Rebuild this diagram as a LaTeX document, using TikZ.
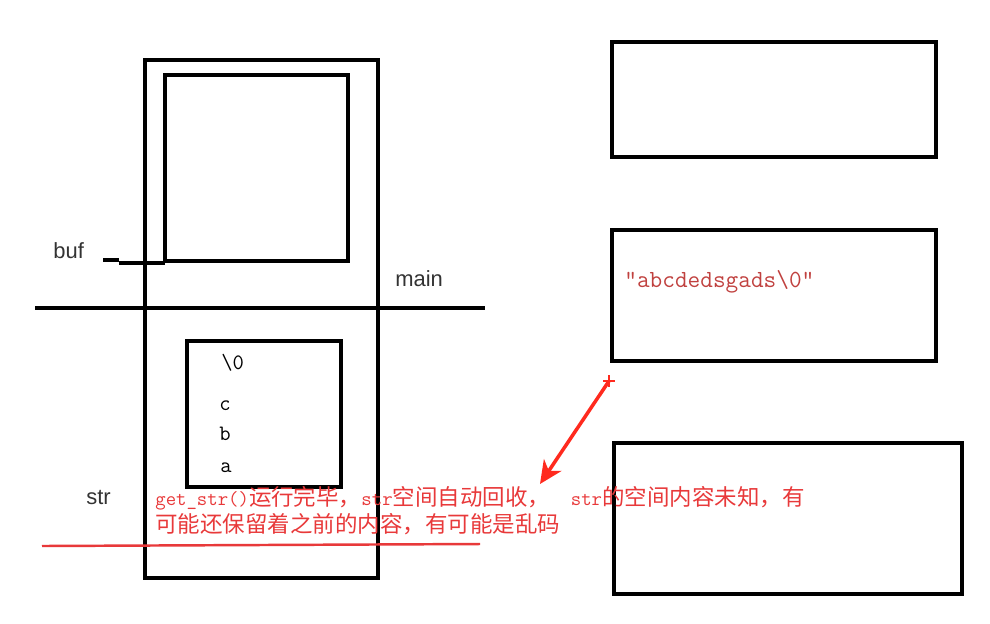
\documentclass[tikz,border=0pt]{standalone}
\usepackage{fontspec}
\usetikzlibrary{arrows.meta,calc}
\newfontfamily\cjk{Noto Sans CJK SC}
\newfontfamily\lsans{Liberation Sans}
\newcommand\zh[1]{{\cjk\fontsize{12.8}{15.3}\selectfont #1}}
\definecolor{redtxt}{HTML}{E8393A}
\definecolor{strred}{HTML}{C0413F}
\definecolor{arrred}{HTML}{FF2A1E}
\definecolor{lbl}{HTML}{333333}
\tikzset{
  blk/.style={line width=1.8pt, draw=black},
  lab/.style={font=\lsans\fontsize{12.5}{14}\selectfont, text=lbl, inner sep=0pt},
  chr/.style={font=\ttfamily\fontsize{12.5}{14}\selectfont, text=black, inner sep=0pt},
}
\begin{document}
\begin{tikzpicture}[x=0.02cm,y=-0.02cm]
\useasboundingbox (0,0) rectangle (990,623);
% stack frame
\draw[blk] (145,60) rectangle (378,578);
\draw[blk] (165,75) rectangle (348,261);
\draw[blk] (187,341) rectangle (341,487);
\draw[blk] (35,308) -- (485,308);
% buf pointer line
\coordinate (b1) at (103,260);
\coordinate (b2) at (119,260);
\coordinate (b3) at (119,263);
\coordinate (b4) at (165,263);
\draw[blk] (b1) -- (b2);
\draw[blk] (b3) -- (b4);
% labels
\node[lab, anchor=base west] (buf) at (53,258) {buf};
\node[lab, anchor=base west] (main) at (395,286) {main};
\node[lab, anchor=base west] (str) at (86,504) {str};
% chars
\node[chr, anchor=base west] (c0) at (221,369) {\textbackslash0};
\node[chr, anchor=base west] (cc) at (219,410) {c};
\node[chr, anchor=base west] (cb) at (219,440) {b};
\node[chr, anchor=base west] (ca) at (220,472) {a};
% right boxes
\draw[blk] (612,42) rectangle (936,157);
\draw[blk] (612,230) rectangle (936,361);
\draw[blk] (614,443) rectangle (962,594);
\node[font=\ttfamily\fontsize{14}{16}\selectfont, text=strred, anchor=base west, inner sep=0pt] (s) at (624,287) {\char"201D abcdedsgads\textbackslash0\char"201D};
% red note
\node[anchor=north west, inner sep=0pt, text=redtxt, align=left,
      font=\ttfamily\fontsize{11.5}{15.3}\selectfont] (note) at (155,486)
  {get\_str()\zh{运行完毕，}str\zh{空间自动回收，}\ \ str\zh{的空间内容未知，有}\\
   \zh{可能还保留着之前的内容，有可能是乱码}};
% underline
\coordinate (u1) at (42,546);
\coordinate (u2) at (480,544);
\draw[redtxt, line width=1.4pt] (u1) -- (u2);
% arrow
\coordinate (p) at (609,381);
\coordinate (t) at (540,484);
\draw[arrred, line width=1.4pt] ($(p)+(-6,0)$) -- ($(p)+(6,0)$);
\draw[arrred, line width=1.4pt] ($(p)+(0,-6)$) -- ($(p)+(0,6)$);
\draw[arrred, line width=2pt, -{Stealth[length=13pt,width=12pt,inset=4pt]}] (p) -- (t);
\end{tikzpicture}
\end{document}
